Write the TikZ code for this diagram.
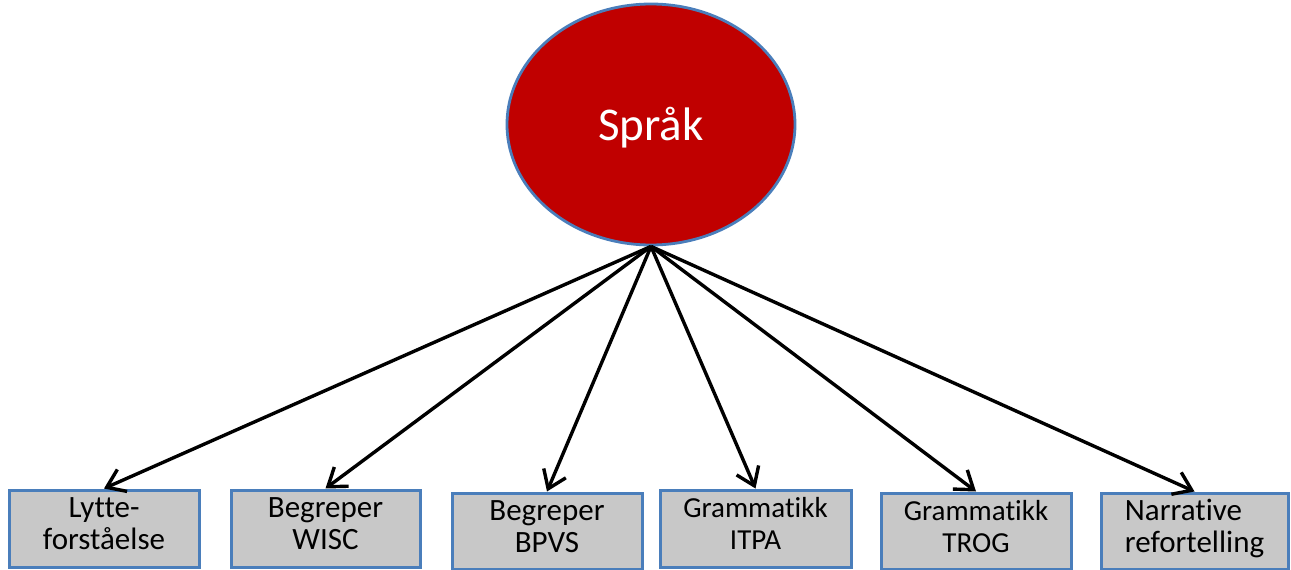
\documentclass[tikz,border=0pt]{standalone}
\usepackage{fontspec}
\setmainfont{Carlito}[Ligatures=NoCommon]
\usetikzlibrary{arrows.meta,shapes.geometric}
\definecolor{sprakred}{HTML}{C00000}
\definecolor{edgeblue}{HTML}{4A7EBB}
\definecolor{boxgray}{HTML}{C8C8C8}
\begin{document}
\begin{tikzpicture}[x=1pt,y=-1pt,
  measure/.style={draw=edgeblue, line width=3pt, fill=boxgray,
    minimum width=190pt, minimum height=77pt, inner sep=0pt, align=center,
    font=\fontsize{31}{32}\selectfont,
    execute at begin node=\strut, execute at end node=\strut},
  smallfont/.style={font=\fontsize{29}{32}\selectfont},
  link/.style={-{Straight Barb[length=17pt,width=24pt]}, line width=3.4pt}]
\useasboundingbox (0,0) rectangle (1291,570);
\node[draw=edgeblue, line width=2.8pt, fill=sprakred, ellipse,
  minimum width=288pt, minimum height=241pt, inner sep=0pt, text=white,
  font=\fontsize{47}{56}\selectfont, text height=32pt, text depth=0pt]
  (sprak) at (651,124.5) {Språk};
\node[measure] (b1) at (104,528.5) {Lytte-\\forståelse};
\node[measure, minimum width=189pt] (b2) at (325.5,528.5) {Begreper\\WISC};
\node[measure, minimum height=76pt] (b3) at (547,531) {Begreper\\BPVS};
\node[measure, smallfont, minimum width=191pt] (b4) at (755.5,528.5) {Grammatikk\\ITPA};
\node[measure, smallfont, minimum height=76pt] (b5) at (976,531) {Grammatikk\\TROG};
\node[measure, align=left, minimum width=187pt, minimum height=76pt] (b6) at (1194.5,531) {Narrative\\refortelling};
\foreach \b in {b1,b2,b3,b4,b5,b6}
  \draw[link] (sprak.south) -- (\b.north);
\end{tikzpicture}
\end{document}
